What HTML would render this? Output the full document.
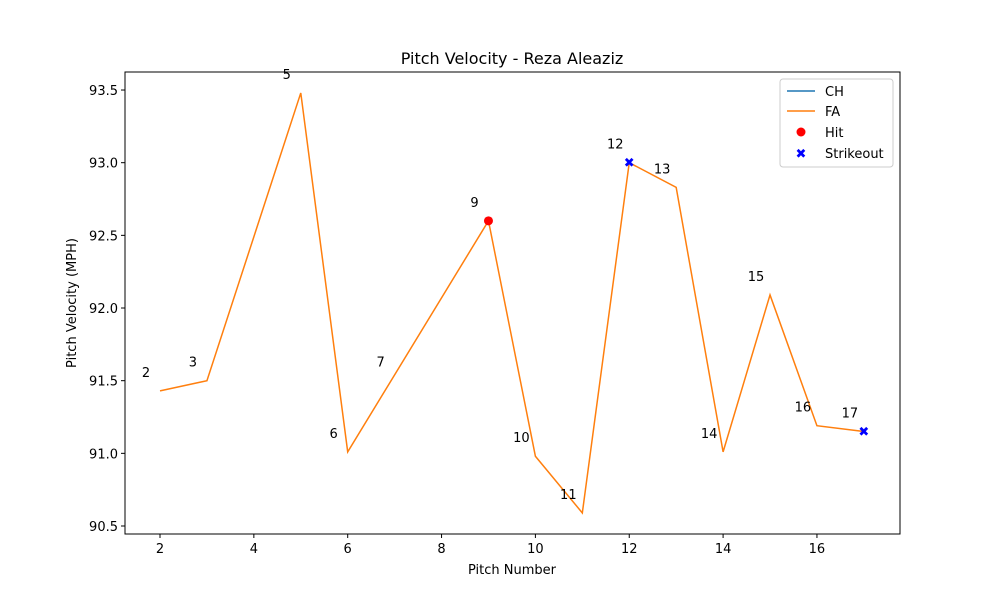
<!DOCTYPE html>
<html><head><meta charset="utf-8"><style>
body{margin:0;background:#fff;}
svg text{font-family:"DejaVu Sans","Liberation Sans",sans-serif;fill:#000;}
</style></head><body>
<svg id="chart" width="1000" height="600">
<rect width="1000" height="600" fill="#fff"/>
<text x="512" y="64" font-size="16" text-anchor="middle">Pitch Velocity - Reza Aleaziz</text>
<g id="plot"></g>
<text x="512" y="574" font-size="13" text-anchor="middle">Pitch Number</text>
<text x="76" y="303" font-size="13" text-anchor="middle" transform="rotate(-90 76 303)">Pitch Velocity (MPH)</text>
<g>
<rect x="780" y="79" width="113" height="88" fill="#fff" stroke="#ccc" rx="3"/>
<line x1="787" y1="91" x2="815" y2="91" stroke="#1f77b4" stroke-width="1.5"/>
<text x="825" y="96" font-size="13">CH</text>
<line x1="787" y1="111" x2="815" y2="111" stroke="#ff7f0e" stroke-width="1.5"/>
<text x="825" y="116" font-size="13">FA</text>
<circle cx="801" cy="132" r="4.5" fill="red"/>
<text x="825" y="137" font-size="13">Hit</text>
<text x="801" y="158" font-size="13" text-anchor="middle" fill="blue" style="fill:blue;font-weight:bold">✖</text>
<text x="825" y="158" font-size="13">Strikeout</text>
</g>
</svg>
<script>
const pitches=[2,3,5,6,9,10,11,12,13,14,15,16,17];
const velos=[91.43,91.50,93.48,91.01,92.60,90.98,90.59,93.00,92.83,91.01,92.09,91.19,91.15];
const labelPitches=[2,3,5,6,7,9,10,11,12,13,14,15,16,17];
const labelVelos=[91.43,91.50,93.48,91.01,91.50,92.60,90.98,90.59,93.00,92.83,91.01,92.09,91.19,91.15];
const hitPitches=[9];const hitVelos=[92.60];
const kPitches=[12,17];const kVelos=[93.00,91.15];
const xTicks=[2,4,6,8,10,12,14,16];
const yTicks=[90.5,91.0,91.5,92.0,92.5,93.0,93.5];
const L=125,R=900,T=72,B=534,xmin=1.254,xmax=17.77,ymin=90.445,ymax=93.624;
const X=v=>L+(v-xmin)/(xmax-xmin)*(R-L);
const Y=v=>B-(v-ymin)/(ymax-ymin)*(B-T);
const ns="http://www.w3.org/2000/svg";
const g=document.getElementById('plot');
function mk(t,a,txt){const e=document.createElementNS(ns,t);for(const k in a)e.setAttribute(k,a[k]);if(txt!=null)e.textContent=txt;g.appendChild(e);return e;}
const frame=mk('rect',{x:L,y:T,width:R-L,height:B-T,fill:'none',stroke:'#000','stroke-width':1});


xTicks.forEach(t=>{const l=mk('line',{x1:X(t),x2:X(t),y1:B,y2:B+4,stroke:'#000'});


const s=mk('text',{x:X(t),y:B+19,'font-size':13,'text-anchor':'middle'},String(t));

});
yTicks.forEach(t=>{const l=mk('line',{x1:L-4,x2:L,y1:Y(t),y2:Y(t),stroke:'#000'});


const s=mk('text',{x:L-7,y:Y(t)+5,'font-size':13,'text-anchor':'end'},t.toFixed(1));

});
const line=mk('polyline',{points:pitches.map((p,i)=>X(p)+','+Y(velos[i])).join(' '),fill:'none',stroke:'#ff7f0e','stroke-width':1.5});


labelPitches.forEach((p,i)=>{const s=mk('text',{x:X(p)-14,y:Y(labelVelos[i])-14,'font-size':13,'text-anchor':'middle'},String(p));

});
hitPitches.forEach((p,i)=>{const c=mk('circle',{cx:X(p),cy:Y(hitVelos[i]),r:4.5,fill:'red'});

});
kPitches.forEach((p,i)=>{const s=mk('text',{x:X(p),y:Y(kVelos[i])+4.5,'font-size':13,'text-anchor':'middle',style:'fill:blue;font-weight:bold'},'✖');

});
</script>
</body></html>
